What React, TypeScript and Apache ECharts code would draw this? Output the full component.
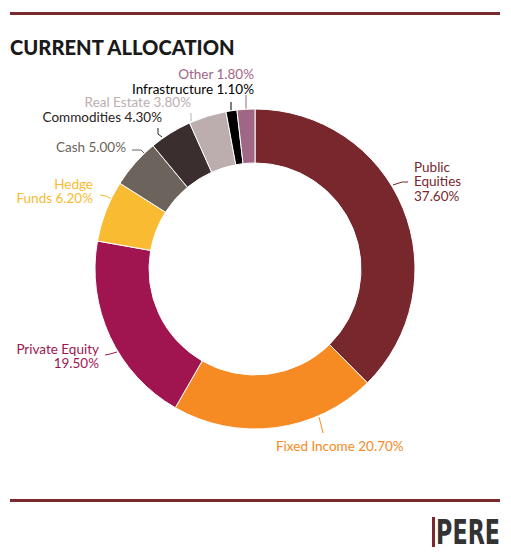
import React, { useEffect, useRef } from "react";
import * as echarts from "echarts";

const categories = [
  "Public Equities",
  "Fixed Income",
  "Private Equity",
  "Hedge Funds",
  "Cash",
  "Commodities",
  "Real Estate",
  "Infrastructure",
  "Other",
];
const values = [37.6, 20.7, 19.5, 6.2, 5.0, 4.3, 3.8, 1.1, 1.8];
const labelTexts = [
  "Public\nEquities\n37.60%",
  "Fixed Income 20.70%",
  "Private Equity\n19.50%",
  "Hedge\nFunds 6.20%",
  "Cash 5.00%",
  "Commodities 4.30%",
  "Real Estate 3.80%",
  "Infrastructure 1.10%",
  "Other 1.80%",
];
const sliceColors = [
  "#78282d",
  "#f68a23",
  "#a0154f",
  "#f9bb31",
  "#6c645c",
  "#3a2f2e",
  "#bcaeae",
  "#000000",
  "#a06686",
];
const labelColors = [
  "#78282d",
  "#f68a23",
  "#a0154f",
  "#f9bb31",
  "#6c645c",
  "#2b2222",
  "#bcaeae",
  "#000000",
  "#a06686",
];
// label anchor placement: [x, y, align]
const labelPlacement: [number, number, string][] = [
  [414, 181, "left"],
  [276, 446, "left"],
  [99, 356, "right"],
  [93, 191, "right"],
  [126, 147, "right"],
  [162, 116.5, "right"],
  [191, 102, "right"],
  [254, 88.5, "right"],
  [254, 74, "right"],
];
// guide-line routing for each label
const guidePoints: number[][][] = [
  [[393, 185], [402, 182], [408, 182]],
  [[319, 417], [321, 425], [323, 433]],
  [[117, 352], [110, 354], [105, 355]],
  [[112, 199], [106, 196], [100, 195]],
  [[144, 153], [141, 150], [132, 150]],
  [[162, 137], [158, 134], [158, 128]],
  [[191, 121], [191, 113]],
  [[231, 110], [231, 102]],
  [[246, 109], [246, 95]],
];

export default function App() {
  const ref = useRef<HTMLDivElement>(null);
  useEffect(() => {
    const chart = echarts.init(ref.current!, null, { renderer: "svg" });
    chart.setOption({
      animation: false,
      backgroundColor: "#ffffff",
      textStyle: { fontFamily: "Lato" },
      graphic: [
        { type: "rect", shape: { x: 10, y: 12, width: 490, height: 3 }, style: { fill: "#7a2a2e" } },
        { type: "rect", shape: { x: 10, y: 499, width: 490, height: 3 }, style: { fill: "#7a2a2e" } },
        {
          type: "text",
          x: 10,
          y: 47,
          scaleX: 0.96,
          style: {
            text: "CURRENT ALLOCATION",
            fontFamily: "Lato",
            fontWeight: 900,
            fontSize: 21,
            fill: "#1a1a1a",
            verticalAlign: "middle",
          },
        },
        { type: "rect", shape: { x: 432, y: 517, width: 3, height: 30 }, style: { fill: "#7a2a2e" } },
        {
          type: "text",
          x: 500,
          y: 532.5,
          scaleX: 0.75,
          style: {
            text: "PERE",
            fontFamily: "DejaVu Sans Condensed",
            fontWeight: "bold",
            fontSize: 33,
            fill: "#333333",
            align: "right",
            verticalAlign: "middle",
          },
        },
      ],
      series: [
        {
          type: "pie",
          center: [255, 269],
          radius: [106, 160],
          startAngle: 90,
          clockwise: true,
          avoidLabelOverlap: false,
          itemStyle: { borderColor: "#ffffff", borderWidth: 1 },
          label: {
            show: true,
            position: "outside",
            fontFamily: "Lato",
            fontSize: 13.5,
            lineHeight: 14.5,
          },
          labelLine: { show: true, length: 8, length2: 6, lineStyle: { width: 1 } },
          labelLayout: (params: any) => {
            const p = labelPlacement[params.dataIndex];
            return {
              x: p[0],
              y: p[1],
              align: p[2],
              verticalAlign: "middle",
              labelLinePoints: guidePoints[params.dataIndex],
            };
          },
          data: categories.map((name, i) => ({
            name,
            value: values[i],
            itemStyle: { color: sliceColors[i] },
            label: {
              formatter: labelTexts[i],
              color: labelColors[i],
              lineHeight: labelTexts[i].includes("\n") ? 14.5 : 12.5,
            },
            labelLine: { lineStyle: { color: labelColors[i] } },
          })),
        },
      ],
    });
    return () => chart.dispose();
  }, []);
  return (
    <div
      ref={ref}
      style={{ position: "fixed", left: 0, top: 0, width: 511, height: 554 }}
    />
  );
}
